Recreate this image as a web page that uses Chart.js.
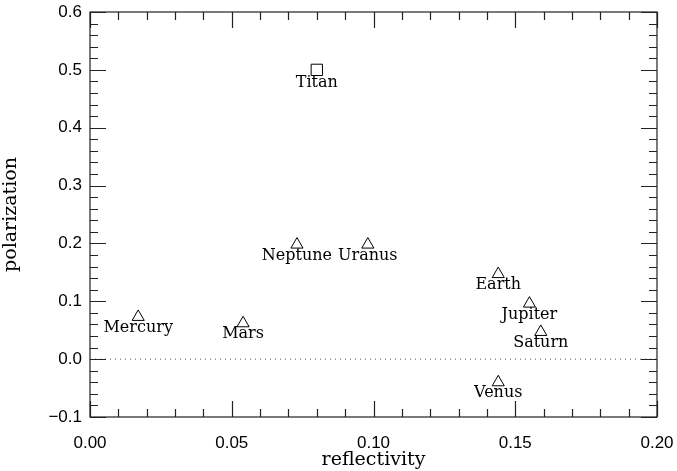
<!DOCTYPE html>
<html>
<head>
<meta charset="utf-8">
<script src="https://cdn.jsdelivr.net/npm/chart.js@4.4.0/dist/chart.umd.min.js"></script>
<style>
  html, body { margin: 0; padding: 0; background: #fff; }
  #wrap { width: 677px; height: 471px; }
</style>
</head>
<body>
<div id="wrap"><canvas id="polarChart" width="677" height="471"></canvas></div>
<script>
// Planètes (triangles)
var planetNames = ['Mercury', 'Venus', 'Earth', 'Mars', 'Jupiter', 'Saturn', 'Uranus', 'Neptune'];
var planetReflectivity = [0.017, 0.144, 0.144, 0.054, 0.155, 0.159, 0.098, 0.073];
var planetPolarization = [0.073, -0.040, 0.147, 0.062, 0.096, 0.047, 0.198, 0.198];

// Titan (carré)
var moonNames = ['Titan'];
var moonReflectivity = [0.08];
var moonPolarization = [0.5];

// Axes
var xTicks = [0, 0.05, 0.1, 0.15, 0.2];
var yTicks = [-0.1, 0, 0.1, 0.2, 0.3, 0.4, 0.5, 0.6];

function toPoints(xs, ys) {
  return xs.map(function(x, i) { return { x: x, y: ys[i] }; });
}

var tickFont = { family: "'Liberation Sans', Arial, sans-serif", size: 17 };
var serif = "'DejaVu Serif', 'Liberation Serif', serif";

// Plugin : cadre, graduations intérieures sur les quatre côtés, étiquettes
var framePlugin = {
  id: 'frame',
  afterDatasetsDraw: function(chart) {
    var ctx = chart.ctx;
    var a = chart.chartArea;
    var xs = chart.scales.x, ys = chart.scales.y;
    ctx.save();

    // étiquettes sous chaque marqueur
    ctx.fillStyle = '#000';
    ctx.font = '16px ' + serif;
    ctx.textAlign = 'center';
    ctx.textBaseline = 'middle';
    chart.data.datasets.forEach(function(ds) {
      if (!ds.names) return;
      var off = ds.pointStyle === 'rect' ? 13 : 11;
      ds.data.forEach(function(p, i) {
        ctx.fillText(ds.names[i], xs.getPixelForValue(p.x), ys.getPixelForValue(p.y) + off);
      });
    });

    // cadre
    ctx.strokeStyle = '#222';
    ctx.lineWidth = 1.2;
    ctx.strokeRect(a.left, a.top, a.right - a.left, a.bottom - a.top);

    // graduations x
    var i, v, px, len;
    for (i = 0; i <= 20; i++) {
      v = i * 0.01;
      px = Math.round(xs.getPixelForValue(v)) + 0.5;
      len = (i % 5 === 0) ? 16 : 8;
      ctx.beginPath();
      ctx.moveTo(px, a.bottom); ctx.lineTo(px, a.bottom - len);
      ctx.moveTo(px, a.top); ctx.lineTo(px, a.top + len);
      ctx.stroke();
    }
    // graduations y
    for (i = 0; i <= 35; i++) {
      v = -0.1 + i * 0.02;
      px = Math.round(ys.getPixelForValue(v)) + 0.5;
      len = (i % 5 === 0) ? 16 : 8;
      ctx.beginPath();
      ctx.moveTo(a.left, px); ctx.lineTo(a.left + len, px);
      ctx.moveTo(a.right, px); ctx.lineTo(a.right - len, px);
      ctx.stroke();
    }
    ctx.restore();
  }
};

var ctx = document.getElementById('polarChart').getContext('2d');
window.myChart = new Chart(ctx, {
  type: 'scatter',
  data: {
    datasets: [{
      label: 'zero',
      type: 'line',
      data: [{ x: 0, y: 0 }, { x: 0.2, y: 0 }],
      borderColor: '#555',
      borderWidth: 1,
      borderDash: [1, 4],
      pointRadius: 0
    }, {
      label: 'planets',
      names: planetNames,
      data: toPoints(planetReflectivity, planetPolarization),
      pointStyle: 'triangle',
      pointRadius: 7,
      pointBorderWidth: 1,
      borderColor: '#000',
      backgroundColor: 'rgba(0,0,0,0)'
    }, {
      label: 'moon',
      names: moonNames,
      data: toPoints(moonReflectivity, moonPolarization),
      pointStyle: 'rect',
      pointRadius: 8,
      pointBorderWidth: 1,
      borderColor: '#000',
      backgroundColor: 'rgba(0,0,0,0)'
    }]
  },
  options: {
    responsive: false,
    animation: false,
    layout: { padding: { top: 12, right: 20, left: 0, bottom: 0 } },
    plugins: {
      legend: { display: false },
      tooltip: { enabled: false }
    },
    scales: {
      x: {
        type: 'linear',
        min: 0, max: 0.2,
        afterBuildTicks: function(s) { s.ticks = xTicks.map(function(v) { return { value: v }; }); },
        afterFit: function(s) { s.height = 54; s.paddingLeft = 0; s.paddingRight = 0; },
        grid: { display: false },
        border: { display: false },
        ticks: {
          color: '#000',
          font: tickFont,
          padding: 8,
          callback: function(v) { return v.toFixed(2); }
        },
        title: {
          display: true,
          text: 'reflectivity',
          color: '#000',
          font: { family: serif, size: 19 },
          padding: { top: 0, bottom: 0 }
        }
      },
      y: {
        type: 'linear',
        min: -0.1, max: 0.6,
        afterBuildTicks: function(s) { s.ticks = yTicks.map(function(v) { return { value: v }; }); },
        afterFit: function(s) { s.width = 90; s.paddingTop = 0; s.paddingBottom = 0; },
        grid: { display: false },
        border: { display: false },
        ticks: {
          color: '#000',
          font: tickFont,
          padding: 0,
          callback: function(v) {
            var t = Math.abs(v).toFixed(1);
            return v < -1e-9 ? '\u2212' + t : t;
          }
        },
        title: {
          display: true,
          text: 'polarization',
          color: '#000',
          font: { family: serif, size: 19 },
          padding: { top: 0, bottom: 6 }
        }
      }
    }
  },
  plugins: [framePlugin]
});
</script>
</body>
</html>
